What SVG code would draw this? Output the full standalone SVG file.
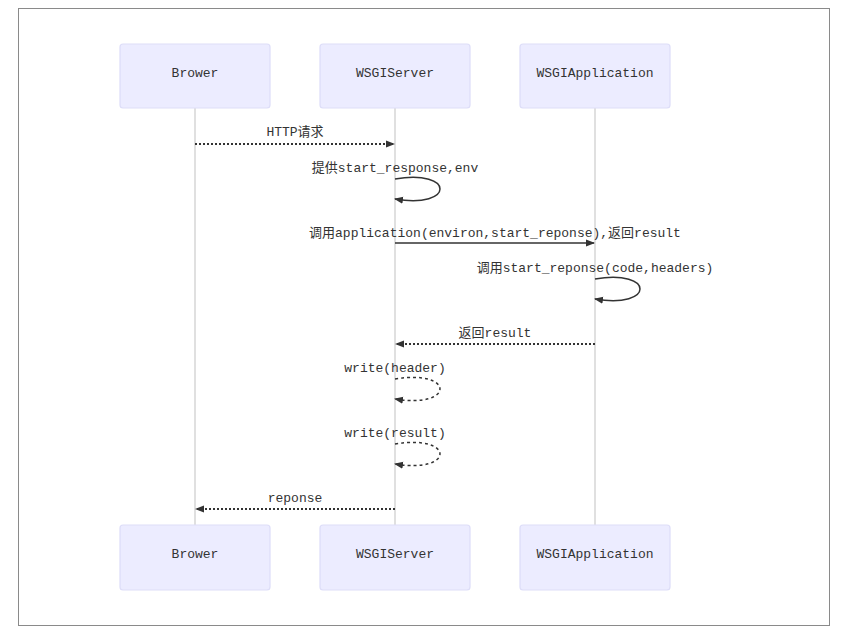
<svg xmlns="http://www.w3.org/2000/svg" width="845" height="636" viewBox="0 0 845 636">
<style>
.frame{fill:#fff;stroke:#8a8a8a;stroke-width:1}
.actor{fill:#ececff;stroke:#ddddf8;stroke-width:1.2}
.atext{font-family:"Liberation Mono","Noto Sans CJK SC",monospace;font-size:13px;fill:#333;text-anchor:middle;dominant-baseline:central}
.life{stroke:#d6d6d6;stroke-width:1.5}
.msg{font-family:"Liberation Mono","Noto Sans CJK SC",monospace;font-size:13px;fill:#333;text-anchor:middle}
.solid{stroke:#333;stroke-width:1.5;fill:none}
.dot{stroke:#333;stroke-width:2;stroke-dasharray:2,2;fill:none}
.dash{stroke:#333;stroke-width:1.5;stroke-dasharray:3,3;fill:none}
</style>
<defs>
<marker id="ah" markerUnits="userSpaceOnUse" markerWidth="9" markerHeight="8" refX="8" refY="3.5" orient="auto" viewBox="0 0 9 7">
<path d="M0,0 L9,3.5 L0,7 z" fill="#333"/>
</marker>
</defs>
<rect class="frame" x="18.5" y="8.5" width="811" height="617"/>
<g id="lifelines">
<line class="life" x1="195" y1="108" x2="195" y2="525"/>
<line class="life" x1="395" y1="108" x2="395" y2="525"/>
<line class="life" x1="595" y1="108" x2="595" y2="525"/>
</g>
<g id="actor-brower-top"><rect class="actor" x="120" y="44" width="150" height="64" rx="3"/><text class="atext" x="195" y="73">Brower</text></g>
<g id="actor-server-top"><rect class="actor" x="320" y="44" width="150" height="64" rx="3"/><text class="atext" x="395" y="73">WSGIServer</text></g>
<g id="actor-app-top"><rect class="actor" x="520" y="44" width="150" height="64" rx="3"/><text class="atext" x="595" y="73">WSGIApplication</text></g>
<g id="actor-brower-bottom"><rect class="actor" x="120" y="525" width="150" height="65" rx="3"/><text class="atext" x="195" y="554">Brower</text></g>
<g id="actor-server-bottom"><rect class="actor" x="320" y="525" width="150" height="65" rx="3"/><text class="atext" x="395" y="554">WSGIServer</text></g>
<g id="actor-app-bottom"><rect class="actor" x="520" y="525" width="150" height="65" rx="3"/><text class="atext" x="595" y="554">WSGIApplication</text></g>
<g id="connectors">
<line class="dot" x1="195" y1="144" x2="394" y2="144" marker-end="url(#ah)"/>
<path class="solid" d="M395,179 C455,169 455,209 395,199" marker-end="url(#ah)"/>
<line class="solid" x1="395" y1="243" x2="594" y2="243" marker-end="url(#ah)"/>
<path class="solid" d="M595,279 C655,269 655,309 595,299" marker-end="url(#ah)"/>
<line class="dot" x1="595" y1="344" x2="396" y2="344" marker-end="url(#ah)"/>
<path class="dash" d="M395,379 C455,369 455,409 395,399" marker-end="url(#ah)"/>
<path class="dash" d="M395,444 C455,434 455,474 395,464" marker-end="url(#ah)"/>
<line class="dot" x1="395" y1="509" x2="196" y2="509" marker-end="url(#ah)"/>
</g>
<g id="labels">
<text class="msg" x="295" y="136">HTTP请求</text>
<text class="msg" x="395" y="172">提供start_response,env</text>
<text class="msg" x="495" y="237">调用application(environ,start_reponse),返回result</text>
<text class="msg" x="595" y="272">调用start_reponse(code,headers)</text>
<text class="msg" x="495" y="337">返回result</text>
<text class="msg" x="395" y="372">write(header)</text>
<text class="msg" x="395" y="437">write(result)</text>
<text class="msg" x="295" y="502">reponse</text>
</g>
</svg>
